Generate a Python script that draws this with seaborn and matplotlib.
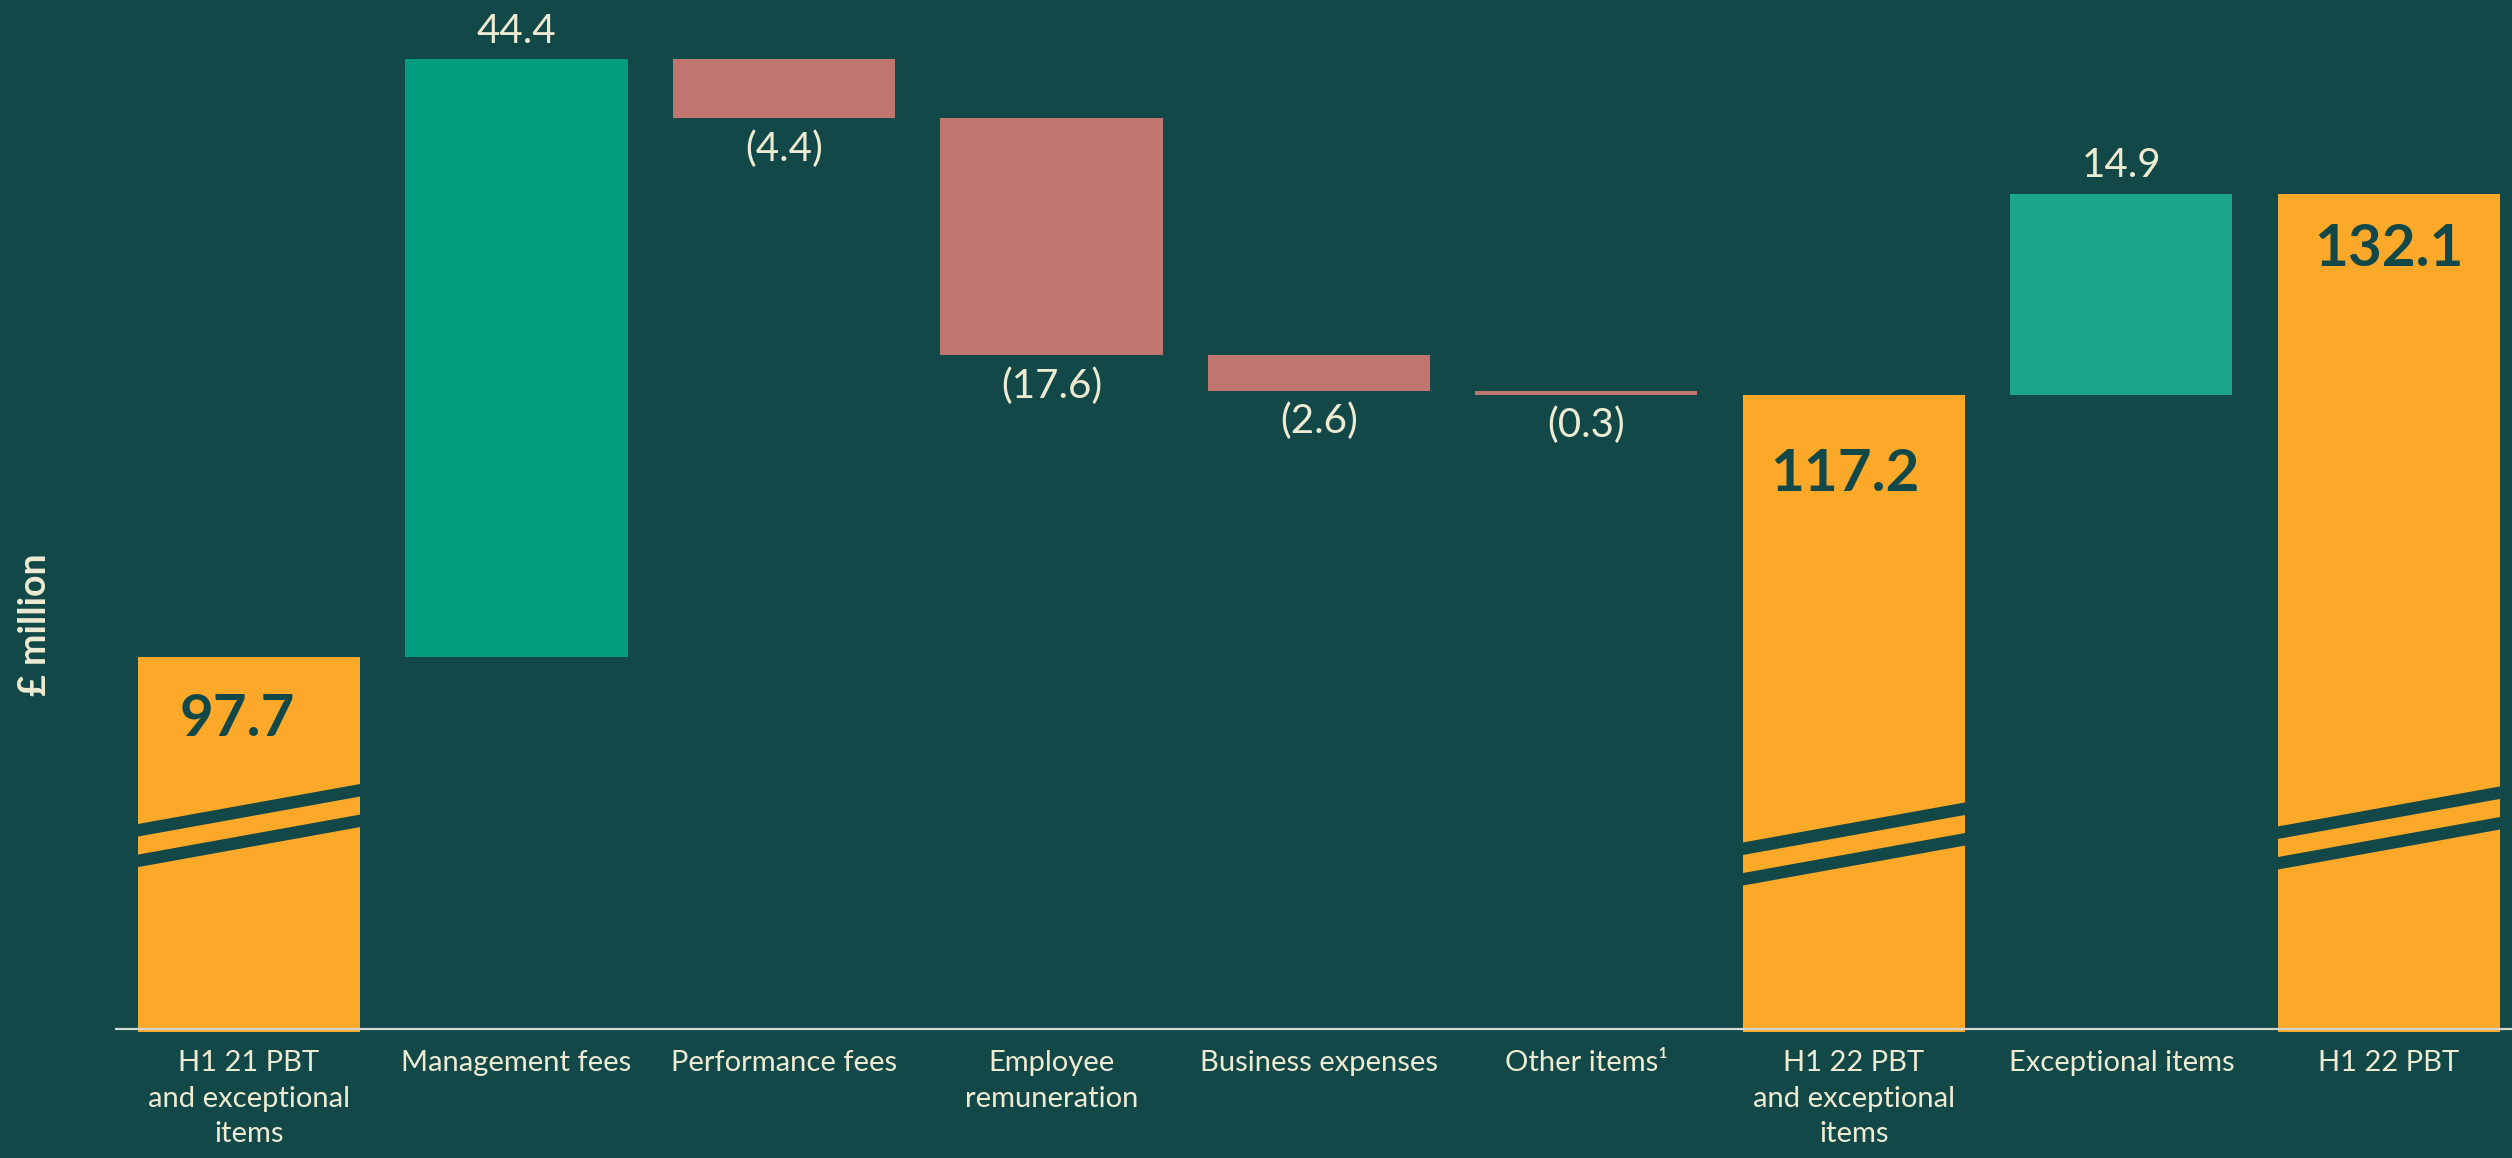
import matplotlib
matplotlib.use("Agg")
import matplotlib.pyplot as plt
import seaborn as sns
import numpy as np
import pandas as pd

# ---------------- data ----------------
categories = [
    "H1 21 PBT\nand exceptional\nitems",
    "Management fees",
    "Performance fees",
    "Employee\nremuneration",
    "Business expenses",
    "Other items\u00b9",
    "H1 22 PBT\nand exceptional\nitems",
    "Exceptional items",
    "H1 22 PBT",
]
values = [97.7, 44.4, -4.4, -17.6, -2.6, -0.3, 117.2, 14.9, 132.1]
is_total = [True, False, False, False, False, False, True, False, True]
value_labels = ["97.7", "44.4", "(4.4)", "(17.6)", "(2.6)", "(0.3)", "117.2", "14.9", "132.1"]

# ---------------- style ----------------
BG = "#134849"
ORANGE = "#FCA829"
GREEN = "#009E7E"
GREEN2 = "#1BA68B"
RED = "#C0756E"
CREAM = "#EEEBD3"
LINE = "#D5D5CF"

bar_colors = [ORANGE, GREEN, RED, RED, RED, RED, ORANGE, GREEN2, ORANGE]

sns.set_theme(style="white")
plt.rcParams["font.family"] = ["Lato", "DejaVu Sans"]

# waterfall geometry from the values
bottoms, heights = [], []
running = 0.0
for v, t in zip(values, is_total):
    if t:
        bottoms.append(0.0)
        heights.append(v)
        running = v
    else:
        bottoms.append(running if v >= 0 else running + v)
        heights.append(abs(v))
        running += v

df = pd.DataFrame({"category": categories, "height": heights})

W, H = 2512, 1158
fig = plt.figure(figsize=(W / 100, H / 100), dpi=100, facecolor=BG)
ax = fig.add_axes([115 / W, 1 - 1032 / H, 1 - 115 / W, 1032 / H])
ax.set_facecolor(BG)

BAR_W = 0.83
sns.barplot(data=df, x="category", y="height", order=categories,
            bottom=np.array(bottoms), width=BAR_W, errorbar=None,
            color=ORANGE, linewidth=0, ax=ax)
for p, c in zip(ax.patches, bar_colors):
    p.set_facecolor(c)
    p.set_edgecolor(c)

Y0 = 70.1
ax.set_ylim(69.88, 146.49)
ax.set_xlim(-0.501, 8.46)

# axis break marks on the truncated total bars
BREAK_AT = [83.72, 82.35, 83.54]
RISE = 2.97
for k, i in enumerate([j for j, t in enumerate(is_total) if t]):
    x0, x1 = i - BAR_W / 2, i + BAR_W / 2
    c = BREAK_AT[k]
    for lo, hi in [(0.67, 1.6), (-1.6, -0.67)]:
        ax.fill([x0, x1, x1, x0], [c + lo, c + lo + RISE, c + hi + RISE, c + hi],
                color=BG, lw=0, zorder=3)

# baseline
ax.axhline(Y0, color=LINE, lw=1.6, zorder=6)

# labels
TOTAL_OFF = {0: (-12, 62), 6: (-9, 80), 8: (0, 56)}
for i, (v, t, lab) in enumerate(zip(values, is_total, value_labels)):
    top = bottoms[i] + heights[i]
    if t:
        dx, dy = TOTAL_OFF[i]
        ax.annotate(lab, (i, top), xytext=(dx * 0.72, -dy * 0.72), textcoords="offset points",
                    ha="center", va="center", fontsize=42, fontweight="bold",
                    color=BG, zorder=7)
    elif v >= 0:
        ax.annotate(lab, (i, top), xytext=(0, 28 * 0.72), textcoords="offset points",
                    ha="center", va="center", fontsize=29, color=CREAM, zorder=7)
    else:
        ax.annotate(lab, (i, bottoms[i]), xytext=(0, -31 * 0.72), textcoords="offset points",
                    ha="center", va="center", fontsize=29, color=CREAM, zorder=7)

ax.set_xticks(range(len(categories)))
ax.set_xticklabels(categories, fontsize=21, color=CREAM, linespacing=1.45)
ax.tick_params(axis="x", length=0, pad=13)
ax.set_yticks([])
ax.set_xlabel("")
ax.set_ylabel("")
for s in ax.spines.values():
    s.set_visible(False)

fig.text(35 / W, 1 - 625 / H, "\u00a3 million", rotation=90, ha="center", va="center",
         fontsize=27, fontweight="bold", color=CREAM)

fig.savefig("out.png", dpi=100, facecolor=BG)
